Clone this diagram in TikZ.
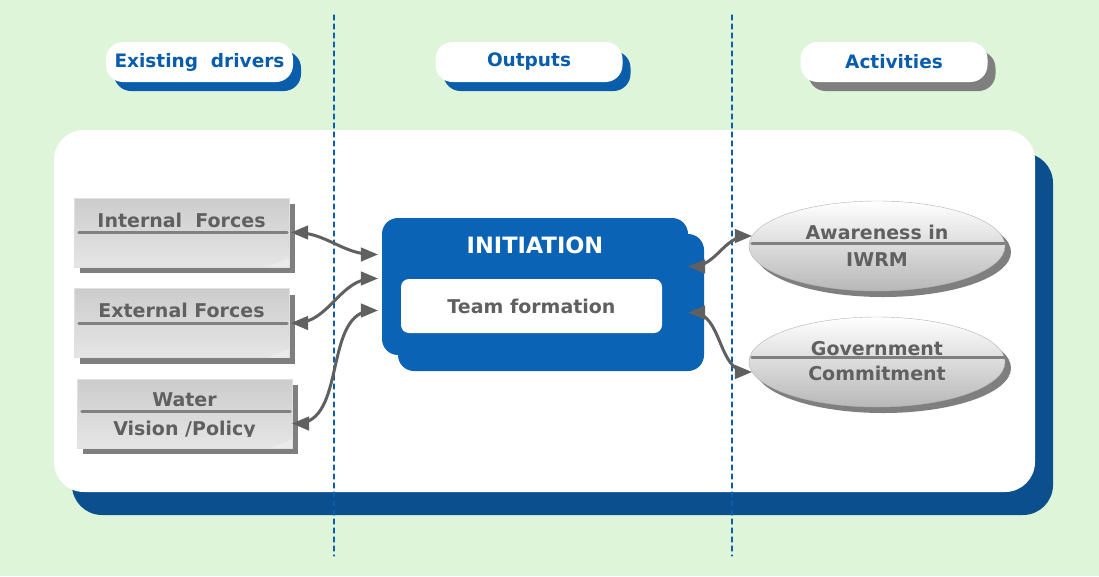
\documentclass[tikz,border=0pt]{standalone}
\usepackage{fontspec}
\setmainfont{DejaVu Sans}
\usetikzlibrary{arrows,positioning,shapes.geometric,shadows}
\usepackage{xcolor}
\definecolor{bggreen}{HTML}{DFF5DA}
\definecolor{hdblue}{HTML}{0A5DAB}
\definecolor{initblue}{HTML}{0A63B5}
\definecolor{shblue}{HTML}{0B4F8E}
\definecolor{txgray}{HTML}{606060}
\definecolor{sdgray}{HTML}{7F7F7F}

\tikzset{
  header/.style={rectangle,rounded corners=17pt,fill=white,minimum width=187pt,minimum height=40pt,
    inner sep=0pt,text=hdblue,font=\fontsize{18.5}{22}\selectfont\bfseries,
    general shadow={fill=#1,shadow xshift=8pt,shadow yshift=-9pt}},
  header/.default=hdblue,
  panel/.style={rectangle,rounded corners=30pt,fill=white,minimum width=981pt,minimum height=362pt,
    general shadow={fill=shblue,shadow xshift=18pt,shadow yshift=-23pt}},
  divider/.style={hdblue,line width=1.2pt,dash pattern=on 5pt off 4pt},
  drvbox/.style={rectangle,minimum width=215pt,minimum height=69pt,inner sep=0pt,
    top color=black!20,middle color=white,bottom color=black!10,draw=black!12,
    general shadow={fill=sdgray,shadow xshift=6pt,shadow yshift=-6pt}},
  actbox/.style={ellipse,minimum width=256pt,minimum height=90pt,inner sep=0pt,
    top color=white,bottom color=black!28,draw=black!30,
    general shadow={fill=sdgray,shadow xshift=6pt,shadow yshift=-6pt}},
  boxtext/.style={inner sep=0pt,text=txgray,font=\fontsize{19}{22}\selectfont\bfseries},
  rule/.style={black!50,line width=3pt},
  initbox/.style={rectangle,rounded corners=16pt,fill=initblue,minimum width=306pt,minimum height=137pt},
  link/.style={<->,>=triangle 45,line width=3pt,color=txgray},
}

\begin{document}
\begin{tikzpicture}[line cap=round,line join=round,x=1pt,y=-1pt]
\useasboundingbox (0,0) rectangle (1099,576);
\fill[bggreen] (0,0) rectangle (1099,576);
% column headers
\node[header] (hdrivers) at (199.5,62) {Existing~~drivers};
\node[header] (houtputs) at (529,62) {Outputs};
\node[header=sdgray] (hacts) at (894,62) {Activities};
% main panel
\node[panel] (frame) at (544.5,311) {};
\draw[divider] (334,15) -- (334,556);
\draw[divider] (732,15) -- (732,556);
% existing drivers
\node[drvbox] (intf) at (181.5,232.5) {};
\node[drvbox] (extf) at (181.5,323) {};
\node[drvbox] (water) at (184.5,413.5) {};
\foreach \b in {intf,extf,water}
  \fill[black!8] ([xshift=-22pt]\b.south east) -- ([yshift=9pt]\b.south east) -- (\b.south east) -- cycle;
\draw[rule] ([xshift=5pt]intf.west) -- ([xshift=-2pt]intf.east);
\draw[rule] ([xshift=5pt]extf.west) -- ([xshift=-2pt]extf.east);
\draw[rule] ([xshift=5pt,yshift=2pt]water.west) -- ([xshift=-2pt,yshift=2pt]water.east);
\node[boxtext,above=5pt of intf.center] (tintf) {Internal~~Forces};
\node[boxtext,above=5pt of extf.center] (textf) {External Forces};
\node[boxtext,above=7pt of water.center] (twater) {Water};
\begin{scope}
\clip (water.north west) rectangle ([yshift=12pt]water.south east);
\node[boxtext,below=7pt of water.center] (tvision) {Vision /Policy};
\end{scope}
% initiation
\node[initbox] (initback) at (551,302.5) {};
\node[initbox] (init) at (535,286.5) {};
\node[inner sep=0pt,text=white,font=\fontsize{22.5}{26}\selectfont\bfseries,below=19pt of init.north] (ititle) {INITIATION};
\node[rectangle,rounded corners=8pt,fill=white,minimum width=261pt,minimum height=54pt,
  text=txgray,font=\fontsize{19}{22}\selectfont\bfseries] (team) at (531.5,306) {Team formation};
% activities
\node[actbox] (aware) at (877,246) {};
\node[actbox] (gov) at (877,362) {};
\draw[rule] ([xshift=3pt,yshift=3pt]aware.west) -- ([xshift=-1pt,yshift=3pt]aware.east);
\draw[rule] ([xshift=3pt,yshift=5pt]gov.west) -- ([xshift=-1pt,yshift=5pt]gov.east);
\node[boxtext,above=6pt of aware.center] (taware) {Awareness in};
\node[boxtext,below=6pt of aware.center] (tiwrm) {IWRM};
\node[boxtext,above=6pt of gov.center] (tgov) {Government};
\node[boxtext,below=4pt of gov.center] (tcommit) {Commitment};
% links
\draw[link] ([xshift=2pt]intf.east) to[out=0,in=180] ([xshift=-4pt,yshift=32pt]init.west);
\draw[link] ([xshift=2pt]extf.east) to[out=0,in=180] ([xshift=-4pt,yshift=8pt]init.west);
\draw[link] ([yshift=-10pt]water.east) to[out=0,in=180] ([xshift=-4pt,yshift=-24pt]init.west);
\draw[link] ([yshift=20pt]init.east) to[out=0,in=180] ([xshift=3pt,yshift=10pt]aware.west);
\draw[link] ([yshift=-26pt]init.east) to[out=0,in=180] ([xshift=3pt,yshift=-10pt]gov.west);
\end{tikzpicture}
\end{document}
